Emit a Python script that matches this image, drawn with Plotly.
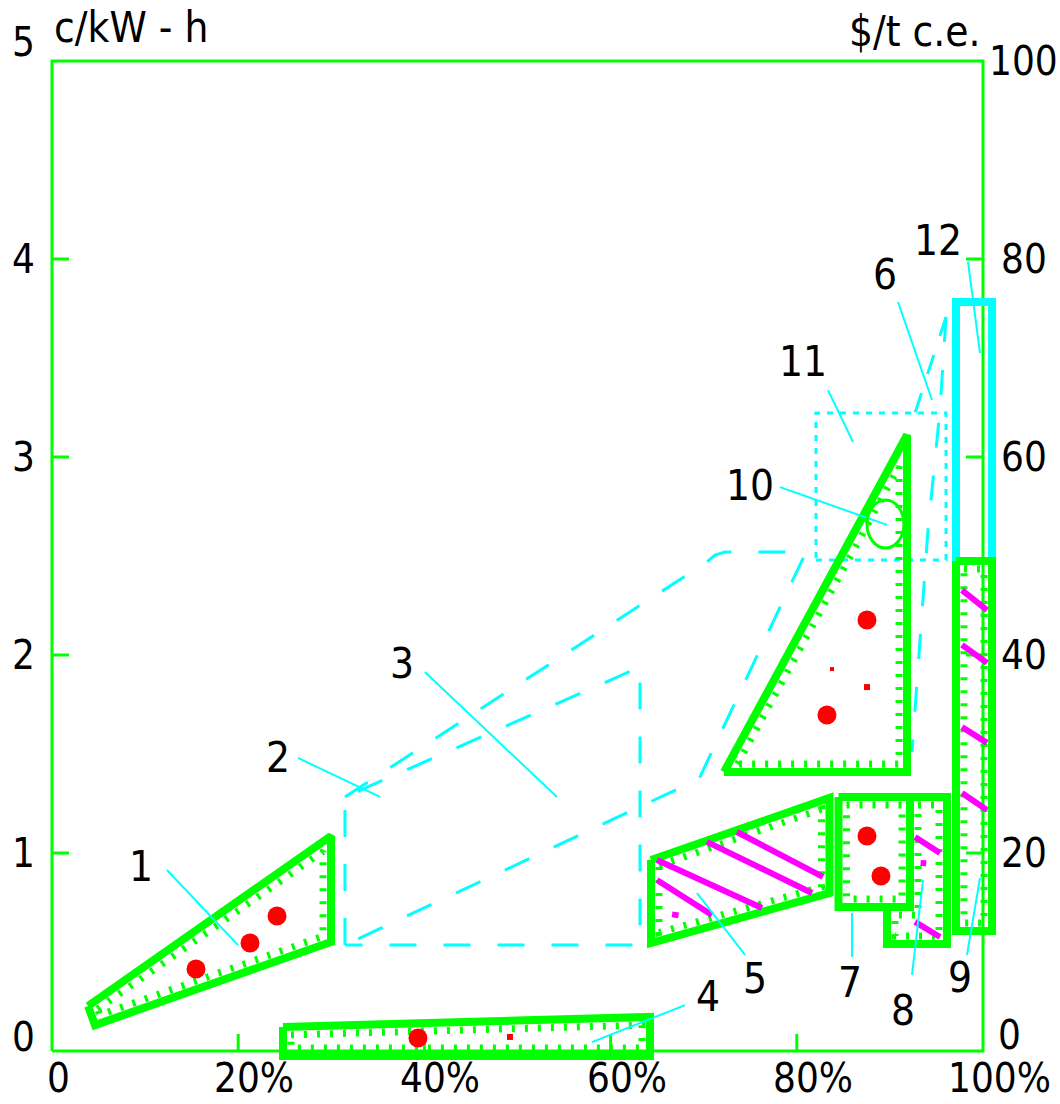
import numpy as np
import plotly.graph_objects as go

# ---------------- page / scale ----------------
W, H = 1060, 1104
X_RANGE = [-5.585, 108.271]      # share of total (%)
Y_RANGE = [-0.2677, 5.3081]      # c/kW-h
SX = W / (X_RANGE[1] - X_RANGE[0])
SY = H / (Y_RANGE[1] - Y_RANGE[0])

GREEN, CYAN, MAGENTA, RED, BLACK = "#00ff00", "#00ffff", "#ff00ff", "#ff0000", "#000000"
FONT = "DejaVu Sans Condensed, Liberation Sans Narrow, DejaVu Sans, Arial, sans-serif"
FS_LABEL = 42
FS_TICK = 40

# ---------------- axes ----------------
x_tick_vals = [0, 20, 40, 60, 80, 100]
x_tick_text = ["0", "20%", "40%", "60%", "80%", "100%"]
y_left_vals = [0, 1, 2, 3, 4, 5]
y_left_text = ["0", "1", "2", "3", "4", "5"]
y_right_vals = [0, 20, 40, 60, 80, 100]
y_right_text = ["0", "20", "40", "60", "80", "100"]
USD_PER_CENT = 20           # 5 c/kW-h  <->  100 $/t c.e.
left_title = "c/kW - h"
right_title = "$/t c.e."

# ---------------- green regions (x in %, y in c/kW-h) ----------------
r1_x = [3.87, 29.97, 29.97, 4.62]
r1_y = [0.227, 1.086, 0.551, 0.131]
r4_x = [24.81, 64.23, 64.23, 24.81]
r4_y = [0.121, 0.172, -0.025, -0.025]
r5_x = [64.34, 83.51, 83.51, 64.34]
r5_y = [0.965, 1.278, 0.798, 0.545]
r6_x = [72.18, 91.84, 91.84]
r6_y = [1.409, 3.111, 1.409]
r7_x = [84.48, 92.16, 92.16, 84.48]
r7_y = [1.283, 1.283, 0.727, 0.727]
r8_x = [92.16, 96.13, 96.13, 89.69, 89.69, 92.16]
r8_y = [1.283, 1.283, 0.540, 0.540, 0.727, 0.727]
r9_x = [97.10, 100.97, 100.97, 97.10]
r9_y = [2.475, 2.475, 0.606, 0.606]

# ---------------- cyan regions ----------------
r2_x = [31.47, 31.47, 63.16, 63.16]
r2_y = [0.535, 1.283, 1.939, 0.535]
r3_x = [31.47, 70.35, 71.21, 72.29, 80.99, 69.50, 31.47]
r3_y = [1.283, 2.470, 2.505, 2.520, 2.520, 1.374, 0.535]
r11_x = [82.06, 96.03, 96.03, 82.06]
r11_y = [2.480, 2.480, 3.222, 3.222]
r12_x = [97.10, 100.97, 100.97, 97.10]
r12_y = [2.475, 2.475, 3.783, 3.783]
edgeA_x = [96.03, 95.38, 94.09, 92.37]
edgeA_y = [3.707, 3.237, 2.631, 1.510]
edgeB_x = [96.03, 92.70]
edgeB_y = [3.707, 3.222]
circle10_x = [87.54, 91.51]
circle10_y = [2.540, 2.783]

# ---------------- magenta hatching ----------------
hatch_x0 = [73.58, 70.35, 64.98, 64.98, 66.60, 92.70, 92.70, 93.30, 97.74, 97.74, 97.74, 97.74]
hatch_y0 = [1.106, 1.056, 0.965, 0.864, 0.690, 1.081, 0.652, 0.950, 2.328, 2.051, 1.636, 1.303]
hatch_x1 = [82.81, 81.63, 76.26, 70.89, 67.30, 95.38, 95.38, 93.90, 100.43, 100.43, 100.43, 100.43]
hatch_y1 = [0.879, 0.798, 0.722, 0.687, 0.685, 1.000, 0.576, 0.948, 2.227, 1.960, 1.556, 1.217]

# ---------------- red points ----------------
dot_x = [24.17, 21.27, 15.47, 39.31, 87.54, 83.24, 87.54, 89.04]
dot_y = [0.682, 0.545, 0.414, 0.066, 2.177, 1.697, 1.086, 0.884]
small_x = [49.19, 87.54]
small_y = [0.071, 1.838]
tiny_x = [83.78]
tiny_y = [1.929]

# ---------------- numbered labels and leader lines ----------------
region_labels = ["1", "2", "3", "4", "5", "6", "7", "8", "9", "10", "11", "12"]
label_x = [9.56, 24.27, 37.59, 70.46, 75.51, 89.47, 85.71, 91.41, 97.53, 74.97, 80.67, 95.17]
label_y = [0.934, 1.480, 1.955, 0.273, 0.364, 3.924, 0.348, 0.207, 0.369, 2.854, 3.480, 4.091]
leader_x0 = [12.35, 26.42, 40.06, 58.00, 69.28, 90.87, 85.93, 92.37, 98.28, 78.20, 83.35, 98.39]
leader_y0 = [0.914, 1.480, 1.914, 0.045, 0.798, 3.783, 0.697, 0.384, 0.485, 2.848, 3.338, 3.985]
leader_x1 = [19.98, 35.23, 54.24, 67.99, 74.44, 94.52, 85.93, 93.56, 99.68, 89.69, 86.04, 99.68]
leader_y1 = [0.535, 1.283, 1.283, 0.232, 0.485, 3.288, 0.475, 0.864, 0.874, 2.657, 3.076, 3.525]


def closed(xs, ys):
    return list(xs) + [xs[0]], list(ys) + [ys[0]]


def inset(xs, ys, d):
    """Polygon offset inwards by d screen pixels (for the notch rows)."""
    px = (np.array(xs, float) - X_RANGE[0]) * SX
    py = (Y_RANGE[1] - np.array(ys, float)) * SY
    n = len(px)
    area = 0.5 * np.sum(px * np.roll(py, -1) - np.roll(px, -1) * py)
    sgn = 1.0 if area > 0 else -1.0
    lines = []
    for i in range(n):
        j = (i + 1) % n
        dx, dy = px[j] - px[i], py[j] - py[i]
        L = np.hypot(dx, dy)
        nx, ny = -dy / L * sgn, dx / L * sgn
        lines.append((px[i] + d * nx, py[i] + d * ny, dx, dy))
    ox, oy = [], []
    for i in range(n):
        a, b = lines[i - 1], lines[i]
        den = a[2] * b[3] - a[3] * b[2]
        t = ((b[0] - a[0]) * b[3] - (b[1] - a[1]) * b[2]) / den
        qx, qy = a[0] + t * a[2], a[1] + t * a[3]
        ox.append(qx / SX + X_RANGE[0])
        oy.append(Y_RANGE[1] - qy / SY)
    return closed(ox, oy)


def segs(x0, y0, x1, y1):
    xs, ys = [], []
    for a, b, c, d in zip(x0, y0, x1, y1):
        xs += [a, c, None]
        ys += [b, d, None]
    return xs, ys


fig = go.Figure()


def line(xs, ys, color, width, dash="solid"):
    fig.add_trace(go.Scatter(x=xs, y=ys, mode="lines", hoverinfo="skip",
                             line=dict(color=color, width=width, dash=dash)))


# plot frame
fx, fy = closed([0, 100, 100, 0], [0, 0, 5, 5])
line(fx, fy, GREEN, 3)
tick_len_x = 17 / SX
tick_len_y = 17 / SY
tx, ty = [], []
for v in x_tick_vals[1:-1]:
    tx += [v, v, None]; ty += [0, tick_len_y, None]
for v in y_left_vals[1:-1]:
    tx += [0, tick_len_x, None]; ty += [v, v, None]
for v in y_right_vals[1:-1]:
    tx += [100 - tick_len_x, 100, None]; ty += [v / USD_PER_CENT, v / USD_PER_CENT, None]
line(tx, ty, GREEN, 3)

# cyan dashed regions
line(*closed(r2_x, r2_y), CYAN, 3, "27px,27px")
line(r3_x, r3_y, CYAN, 3, "27px,27px")
line(edgeA_x, edgeA_y, CYAN, 3, "25px,28px")
line(edgeB_x, edgeB_y, CYAN, 3, "20px,20px")
line(*closed(r11_x, r11_y), CYAN, 3, "6px,7px")
line(*closed(r12_x, r12_y), CYAN, 8)

# green regions with inner notch rows
for gx, gy in [(r1_x, r1_y), (r4_x, r4_y), (r5_x, r5_y), (r6_x, r6_y),
               (r8_x, r8_y), (r7_x, r7_y), (r9_x, r9_y)]:
    line(*closed(gx, gy), GREEN, 8)
    ix, iy = inset(gx, gy, 8)
    line(ix, iy, GREEN, 7, "3px,10px")

# magenta hatching
hx, hy = segs(hatch_x0, hatch_y0, hatch_x1, hatch_y1)
line(hx, hy, MAGENTA, 6)

# red points
fig.add_trace(go.Scatter(x=dot_x, y=dot_y, mode="markers", hoverinfo="skip",
                         marker=dict(color=RED, size=19, symbol="circle", line=dict(width=0))))
fig.add_trace(go.Scatter(x=small_x, y=small_y, mode="markers", hoverinfo="skip",
                         marker=dict(color=RED, size=6, symbol="square", line=dict(width=0))))
fig.add_trace(go.Scatter(x=tiny_x, y=tiny_y, mode="markers", hoverinfo="skip",
                         marker=dict(color=RED, size=4, symbol="square", line=dict(width=0))))

# leader lines
lx, ly = segs(leader_x0, leader_y0, leader_x1, leader_y1)
line(lx, ly, CYAN, 2)

shapes = [dict(type="circle", xref="x", yref="y",
               x0=circle10_x[0], x1=circle10_x[1], y0=circle10_y[0], y1=circle10_y[1],
               line=dict(color=GREEN, width=3), layer="above")]

ann = []
lfont = dict(family=FONT, size=FS_LABEL, color=BLACK)
tfont = dict(family=FONT, size=FS_TICK, color=BLACK)
for t, x, y in zip(region_labels, label_x, label_y):
    ann.append(dict(x=x, y=y, text=t, showarrow=False, xanchor="center", yanchor="middle", font=lfont))

bottom_y = -0.262          # bottom edge of the label row
for v, t in zip(x_tick_vals, x_tick_text):
    ann.append(dict(x=v, y=bottom_y, text=t, showarrow=False, xanchor="center",
                    yanchor="bottom", xshift=(6 if v == 0 else 16), font=tfont))
left_x = -1.61
for v, t in zip(y_left_vals, y_left_text):
    shift = 14 if v == 0 else (19 if v == 5 else 0)
    ann.append(dict(x=left_x, y=v, text=t, showarrow=False, xanchor="right",
                    yanchor="middle", yshift=shift, font=tfont))
right_x = 104.40
for v, t in zip(y_right_vals, y_right_text):
    ys = 16 if v == 0 else 0
    xs = -14 if v == 0 else 0
    ann.append(dict(x=right_x, y=v / USD_PER_CENT, text=t, showarrow=False, xanchor="center",
                    yanchor="middle", yshift=ys, xshift=xs, font=tfont))
ann.append(dict(x=0, y=5.167, text=left_title, showarrow=False, xanchor="left",
                yanchor="middle", font=lfont))
ann.append(dict(x=100, y=5.150, text=right_title, showarrow=False, xanchor="right",
                yanchor="middle", font=lfont))

fig.update_layout(
    width=W, height=H, autosize=False,
    margin=dict(l=0, r=0, t=0, b=0, pad=0),
    paper_bgcolor="white", plot_bgcolor="white",
    showlegend=False, hovermode=False,
    xaxis=dict(range=X_RANGE, visible=False, fixedrange=True),
    yaxis=dict(range=Y_RANGE, visible=False, fixedrange=True),
    shapes=shapes, annotations=ann,
)

fig.write_html("out.html", config={"displayModeBar": False},
               post_script="document.body.style.margin='0px';")
